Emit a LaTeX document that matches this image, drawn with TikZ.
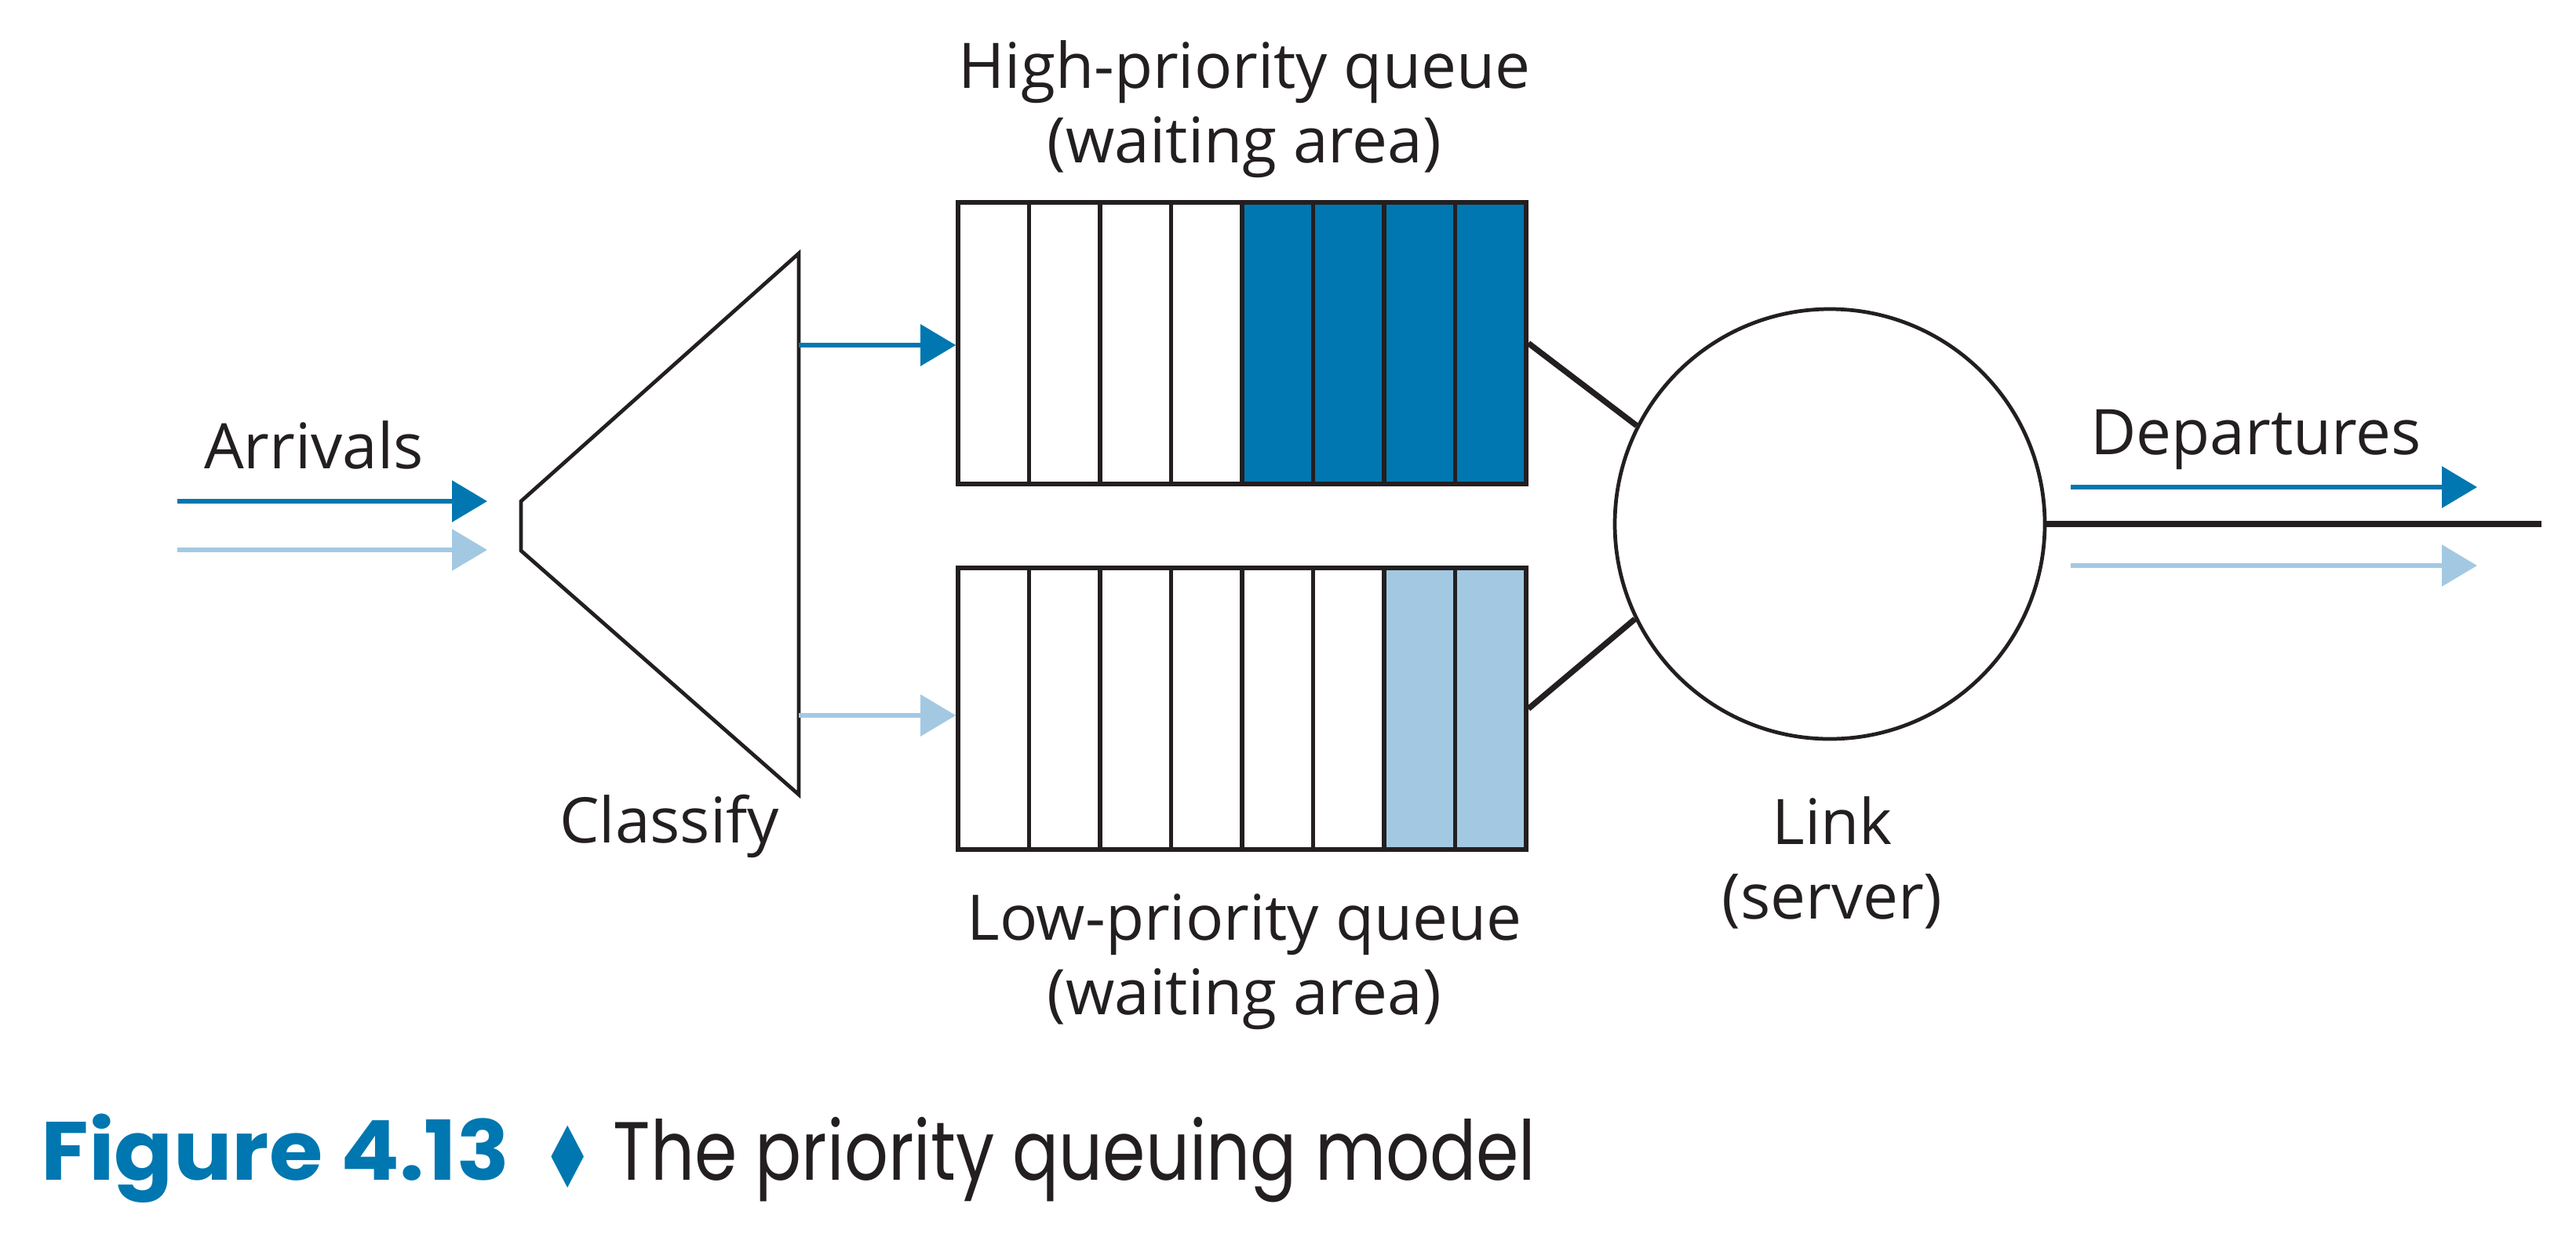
\documentclass[tikz,border=0pt]{standalone}
\usepackage{fontspec}
\setmainfont{Open Sans}
\newfontfamily\captionfont{Poppins}
\newfontfamily\symbolfont{DejaVu Sans}
\usetikzlibrary{arrows.meta}

\definecolor{hiBlue}{RGB}{0,119,176}
\definecolor{loBlue}{RGB}{163,201,226}
\definecolor{inkBlack}{RGB}{35,31,32}

\begin{document}
\begin{tikzpicture}[
	textlabel/.style={font=\fontsize{22.8pt}{27pt}\selectfont, text=inkBlack, inner sep=0pt},
	flow/.style={line width=1.7pt, -{Triangle[length=0.45cm,width=0.52cm]}},
	cell/.style={draw=inkBlack, line width=1.6pt, minimum width=0.905cm, minimum height=3.59cm, inner sep=0pt},
	wire/.style={draw=inkBlack, line width=2.1pt}
]
	\useasboundingbox (0,0) rectangle (32.83,-15.90);

	\def\hiColor{hiBlue};
	\def\loColor{loBlue};

	\def\cellW{0.905};
	\def\qXzero{12.21};
	\def\hiY{-4.375};
	\def\loY{-9.035};

	% Arrivals
	\coordinate (arrHiStart) at (2.26,-6.39);
	\coordinate (arrHiEnd) at (6.21,-6.39);
	\coordinate (arrLoStart) at (2.26,-7.01);
	\coordinate (arrLoEnd) at (6.21,-7.01);
	\draw[flow, \hiColor] (arrHiStart) -- (arrHiEnd);
	\draw[flow, \loColor] (arrLoStart) -- (arrLoEnd);
	\node[textlabel, anchor=base] (arrivals) at (4.00,-5.97) {Arrivals};

	% Classifier
	\coordinate (clsTL) at (6.64,-6.39);
	\coordinate (clsTR) at (10.18,-3.23);
	\coordinate (clsBR) at (10.18,-10.13);
	\coordinate (clsBL) at (6.64,-7.02);
	\coordinate (clsHi) at (10.18,-4.40);
	\coordinate (clsLo) at (10.18,-9.12);
	\draw[inkBlack, line width=1.35pt] (clsTL) -- (clsTR) -- (clsBR) -- (clsBL) -- cycle;
	\node[textlabel, anchor=base] (classify) at (8.53,-10.74) {Classify};

	% High-priority queue
	\foreach \i/\c in {1/white, 2/white, 3/white, 4/white, 5/\hiColor, 6/\hiColor, 7/\hiColor, 8/\hiColor}
		\node[cell, fill=\c] (hi\i) at (\qXzero + \i * \cellW - 0.5 * \cellW, \hiY) {};
	\node[textlabel, align=center, anchor=base] (hiLabel) at (15.86,-2.07) {High-priority queue\\(waiting area)};

	% Low-priority queue
	\foreach \i/\c in {1/white, 2/white, 3/white, 4/white, 5/white, 6/white, 7/\loColor, 8/\loColor}
		\node[cell, fill=\c] (lo\i) at (\qXzero + \i * \cellW - 0.5 * \cellW, \loY) {};
	\node[textlabel, align=center, anchor=base] (loLabel) at (15.86,-12.93) {Low-priority queue\\(waiting area)};

	% Classifier to queues
	\draw[flow, \hiColor] (clsHi) -- (clsHi -| hi1.west);
	\draw[flow, \loColor] (clsLo) -- (clsLo -| lo1.west);

	% Link
	\node[circle, draw=inkBlack, line width=1.35pt, minimum size=5.48cm, inner sep=0pt] (link) at (23.32,-6.68) {};
	\node[textlabel, align=center, anchor=base] (linkLabel) at (23.35,-11.71) {Link\\(server)};
	\draw[wire] (hi8.east) -- (link.153.5);
	\draw[wire] (lo8.east) -- (link.206.5);
	\coordinate (outEnd) at (32.39,-6.68);
	\draw[wire, line width=2.2pt] (link.east) -- (outEnd);

	% Departures
	\coordinate (depHiStart) at (26.39,-6.21);
	\coordinate (depHiEnd) at (31.57,-6.21);
	\coordinate (depLoStart) at (26.39,-7.21);
	\coordinate (depLoEnd) at (31.57,-7.21);
	\draw[flow, \hiColor] (depHiStart) -- (depHiEnd);
	\draw[flow, \loColor] (depLoStart) -- (depLoEnd);
	\node[textlabel, anchor=base] (departures) at (28.75,-5.79) {Departures};

	% Caption
	\node[anchor=base west, inner sep=0pt, text=hiBlue, font=\captionfont\bfseries\fontsize{30pt}{36pt}\selectfont] (figNum) at (0.52,-15.04) {\scalebox{1.05}[1]{Figure 4.13}};
	\node[anchor=base west, inner sep=0pt, text=hiBlue, font=\symbolfont\fontsize{31pt}{34pt}\selectfont] (figMark) at (6.90,-15.14) {\scalebox{0.68}[1]{♦}};
	\node[anchor=base west, inner sep=0pt, text=inkBlack, font=\captionfont\fontsize{30pt}{36pt}\selectfont] (figTitle) at (7.81,-15.04) {\scalebox{0.83}[1]{The priority queuing model}};

\end{tikzpicture}
\end{document}
